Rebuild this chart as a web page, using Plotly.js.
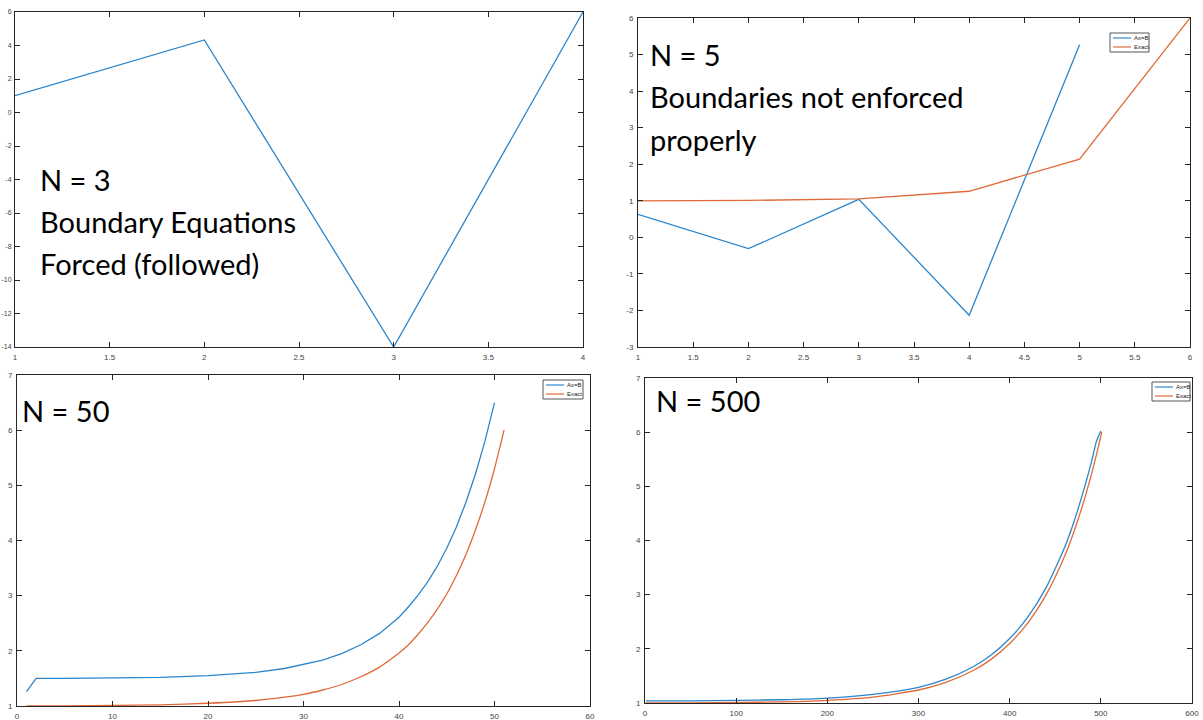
<!DOCTYPE html>
<html>
<head>
<meta charset="utf-8">
<script src="https://cdn.plot.ly/plotly-3.0.1.min.js"></script>
<style>
  html, body { margin: 0; padding: 0; background: #fff; }
  #chart { width: 1203px; height: 720px; }
</style>
</head>
<body>
<div id="chart"></div>
<script>
// N = 3 : boundary equations enforced
const n3X = [1, 2, 3, 4];
const n3Y = [1.0, 4.33, -14.0, 6.0];

// N = 5 : Ax=B solution vs exact
const n5AxX = [1, 2, 3, 4, 5];
const n5AxY = [0.63, -0.31, 1.04, -2.13, 5.27];
const n5ExX = [1, 2, 3, 4, 5, 6];
const n5ExY = [1.0, 1.01, 1.05, 1.26, 2.14, 6.0];

// N = 50
const n50AxX = [1, 2, 5, 10, 15, 20, 25, 28, 30, 32, 34, 36, 38, 40, 41, 42, 43, 44, 45, 46, 47, 48, 49, 50];
const n50AxY = [1.26, 1.50, 1.50, 1.51, 1.52, 1.55, 1.61, 1.68, 1.75, 1.83, 1.95, 2.11, 2.32, 2.61, 2.80, 3.01, 3.25, 3.53, 3.86, 4.24, 4.69, 5.20, 5.80, 6.50];
const n50ExX = [1, 5, 10, 15, 20, 25, 28, 30, 32, 34, 36, 38, 40, 41, 42, 43, 44, 45, 46, 47, 48, 49, 50, 51];
const n50ExY = [1.00, 1.00, 1.01, 1.02, 1.05, 1.10, 1.16, 1.21, 1.29, 1.39, 1.53, 1.71, 1.96, 2.11, 2.30, 2.51, 2.75, 3.03, 3.36, 3.74, 4.19, 4.70, 5.30, 6.00];

// N = 500
const n500AxX = [1, 50, 100, 150, 200, 250, 300, 330, 360, 380, 400, 420, 440, 460, 470, 480, 490, 495, 500];
const n500AxY = [1.04, 1.04, 1.05, 1.06, 1.09, 1.16, 1.29, 1.44, 1.67, 1.89, 2.19, 2.59, 3.13, 3.86, 4.32, 4.86, 5.47, 5.82, 6.02];
const n500ExX = [1, 50, 100, 150, 200, 250, 300, 330, 360, 380, 400, 420, 440, 460, 470, 480, 490, 495, 501];
const n500ExY = [1.00, 1.00, 1.01, 1.02, 1.05, 1.11, 1.24, 1.38, 1.60, 1.81, 2.10, 2.48, 3.00, 3.70, 4.14, 4.65, 5.24, 5.57, 6.00];

// tick labels written with a plain hyphen for negatives
const n3YTicks = [-14, -12, -10, -8, -6, -4, -2, 0, 2, 4, 6];
const n3YTickText = ['-14', '-12', '-10', '-8', '-6', '-4', '-2', '0', '2', '4', '6'];
const n5YTicks = [-3, -2, -1, 0, 1, 2, 3, 4, 5, 6];
const n5YTickText = ['-3', '-2', '-1', '0', '1', '2', '3', '4', '5', '6'];

const seriesNames = ['Ax=B', 'Exact'];
const BLUE = '#2c86cc';
const ORANGE = '#df6a38';

const W = 1203, H = 720;
const px = v => v / W;
const py = v => 1 - v / H;

function line(x, y, color, xa, ya, shape) {
  return {
    x: x, y: y, type: 'scatter', mode: 'lines',
    xaxis: xa, yaxis: ya, showlegend: false,
    line: { color: color, width: 1.3, shape: shape || 'linear', smoothing: 0.6 },
    hoverinfo: 'skip'
  };
}

const traces = [
  line(n3X, n3Y, BLUE, 'x', 'y'),
  line(n5AxX, n5AxY, BLUE, 'x2', 'y2'),
  line(n5ExX, n5ExY, ORANGE, 'x2', 'y2'),
  line(n50AxX, n50AxY, BLUE, 'x3', 'y3'),
  line(n50ExX, n50ExY, ORANGE, 'x3', 'y3', 'spline'),
  line(n500AxX, n500AxY, BLUE, 'x4', 'y4', 'spline'),
  line(n500ExX, n500ExY, ORANGE, 'x4', 'y4', 'spline')
];

const tickFont = { family: 'Liberation Sans, Arial, sans-serif', size: 8, color: '#444' };

function axis(domain, range, dtick, anchor) {
  return {
    domain: domain, range: range, dtick: dtick, tick0: range[0],
    anchor: anchor, showgrid: false, zeroline: false,
    showline: true, mirror: 'ticks', linecolor: '#262626', linewidth: 1,
    ticks: 'inside', ticklen: 5, tickcolor: '#262626', tickwidth: 1,
    tickfont: tickFont, ticklabelstandoff: 2, fixedrange: true
  };
}

// compact boxed legend (line sample + name per row)
const shapes = [];
const annotations = [];
function legendBox(left, top, w, h) {
  shapes.push({
    type: 'rect', xref: 'paper', yref: 'paper',
    x0: px(left), x1: px(left + w), y0: py(top + h), y1: py(top),
    line: { color: '#555', width: 1 }, fillcolor: '#fff', layer: 'above'
  });
  [BLUE, ORANGE].forEach((c, i) => {
    const yy = top + 5 + i * 9;
    shapes.push({
      type: 'line', xref: 'paper', yref: 'paper',
      x0: px(left + 3), x1: px(left + 21), y0: py(yy), y1: py(yy),
      line: { color: c, width: 1.2 }, layer: 'above'
    });
    annotations.push({
      text: seriesNames[i], xref: 'paper', yref: 'paper',
      x: px(left + 22), y: py(yy), xanchor: 'left', yanchor: 'middle',
      showarrow: false, font: { family: 'Liberation Sans, Arial, sans-serif', size: 6, color: '#222' }
    });
  });
}
legendBox(1110, 33, 39, 19);
legendBox(543, 380, 40, 19);
legendBox(1152, 382, 38, 19);

const textFont = { family: 'Lato, Open Sans, sans-serif', size: 29, color: '#000' };
function label(txt, x, y) {
  annotations.push({
    text: txt, x: px(x), y: py(y), xref: 'paper', yref: 'paper',
    xanchor: 'left', yanchor: 'middle', showarrow: false, font: textFont
  });
}
label('N = 3', 38, 179);
label('Boundary Equations', 38, 221);
label('Forced (followed)', 38, 263);
label('N = 5', 648, 55);
label('Boundaries not enforced', 648, 97);
label('properly', 648, 139);
label('N = 50', 20, 410);
label('N = 500', 654, 400);

const layout = {
  width: W, height: H,
  margin: { l: 0, r: 0, t: 0, b: 0 },
  paper_bgcolor: '#fff', plot_bgcolor: '#fff',
  xaxis: axis([px(15), px(583)], [1, 4], 0.5, 'y'),
  yaxis: Object.assign(axis([py(347), py(12)], [-14, 6], 2, 'x'),
    { tickmode: 'array', tickvals: n3YTicks, ticktext: n3YTickText, tickfont: Object.assign({}, tickFont, { size: 7 }), ticklabelstandoff: 1 }),
  xaxis2: axis([px(638), px(1190)], [1, 6], 0.5, 'y2'),
  yaxis2: Object.assign(axis([py(347), py(18)], [-3, 6], 1, 'x2'),
    { tickmode: 'array', tickvals: n5YTicks, ticktext: n5YTickText }),
  xaxis3: axis([px(17), px(590)], [0, 60], 10, 'y3'),
  yaxis3: axis([py(706), py(375)], [1, 7], 1, 'x3'),
  xaxis4: axis([px(645), px(1192)], [0, 600], 100, 'y4'),
  yaxis4: axis([py(703), py(378)], [1, 7], 1, 'x4'),
  shapes: shapes,
  annotations: annotations
};

Plotly.newPlot('chart', traces, layout, { staticPlot: true, displayModeBar: false });
</script>
</body>
</html>
